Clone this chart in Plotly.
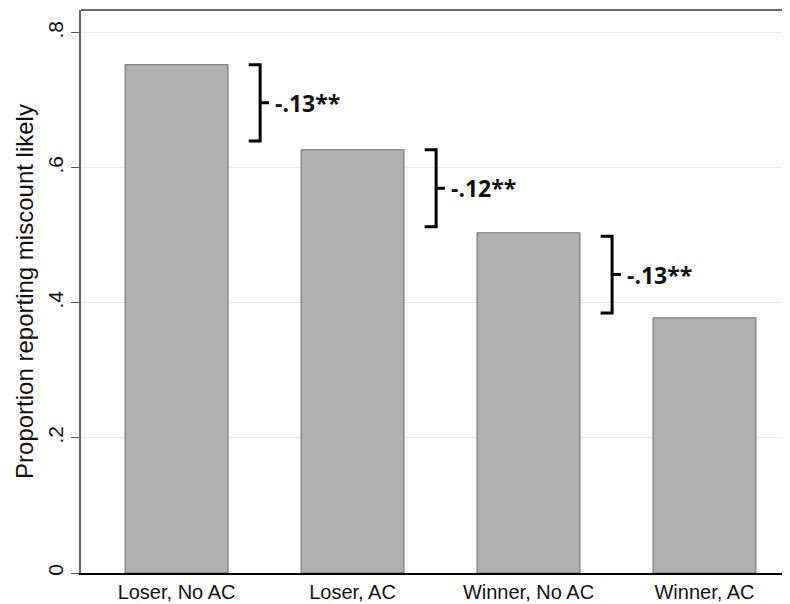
import plotly.graph_objects as go

categories = ["Loser, No AC", "Loser, AC", "Winner, No AC", "Winner, AC"]
proportions = [0.753, 0.627, 0.504, 0.378]

y_tick_vals = [0, 0.2, 0.4, 0.6, 0.8]
y_tick_text = ["0", ".2", ".4", ".6", ".8"]

# differences between adjacent bars (brackets)
diff_labels = ["-.13**", "-.12**", "-.13**"]
bracket_top = [0.753, 0.627, 0.499]
bracket_bottom = [0.640, 0.513, 0.385]

x_pos = list(range(len(categories)))

fig = go.Figure()
fig.add_trace(go.Bar(
    x=x_pos, y=proportions, width=0.585,
    marker=dict(color="#b0b0b0", line=dict(color="#6e6e6e", width=1)),
    hoverinfo="skip",
))

shapes = []
annotations = []
for i, (lab, top, bot) in enumerate(zip(diff_labels, bracket_top, bracket_bottom)):
    xv = i + 0.475
    xh = xv - 0.065
    xt = xv + 0.05
    mid = (top + bot) / 2
    path = (f"M {xh},{top} L {xv},{top} L {xv},{bot} L {xh},{bot} "
            f"M {xv},{mid} L {xt},{mid}")
    shapes.append(dict(type="path", xref="x", yref="y", path=path,
                       line=dict(color="black", width=3)))
    annotations.append(dict(x=xt + 0.025, y=mid, xref="x", yref="y",
                            text=f"<b>{lab}</b>",
                            showarrow=False, xanchor="left", yanchor="middle",
                            font=dict(family="Open Sans", size=23, color="#111"),
                            ))
# top frame line
shapes.append(dict(type="line", xref="paper", yref="paper", x0=0, x1=1, y0=1, y1=1,
                   line=dict(color="#666666", width=2)))

# page body has an 8px default margin; size the figure to fill the rest
fig.update_layout(
    width=782, height=596,
    margin=dict(l=73, r=0, t=2, b=31),
    paper_bgcolor="white", plot_bgcolor="white",
    showlegend=False,
    shapes=shapes,
    annotations=annotations,
    font=dict(family="Liberation Sans", color="#111"),
    xaxis=dict(
        range=[-0.543, 3.486],
        tickvals=x_pos, ticktext=categories,
        tickfont=dict(size=20, color="#111"),
        showgrid=False, zeroline=False,
        showline=True, linecolor="black", linewidth=2,
        ticks="", automargin=False,
    ),
    yaxis=dict(
        range=[0, 0.834],
        tickvals=y_tick_vals, ticktext=y_tick_text,
        tickangle=-90,
        tickfont=dict(size=21, color="#111"),
        ticks="outside", ticklen=8, tickcolor="#555555", tickwidth=1,
        showgrid=True, gridcolor="#e9e9e9", gridwidth=1,
        zeroline=False, automargin=False,
        showline=True, linecolor="#666666", linewidth=2,
        title=dict(text="Proportion reporting miscount likely",
                   font=dict(size=24, color="#111"), standoff=3),
    ),
)

fig.write_html("out.html")
